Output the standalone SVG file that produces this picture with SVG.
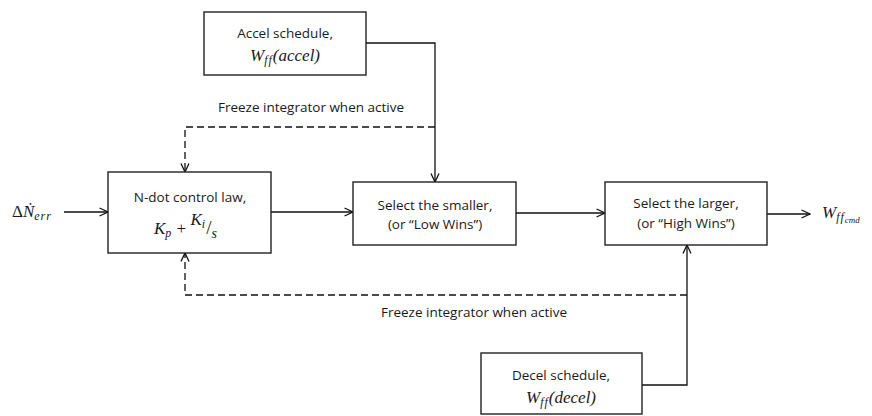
<svg xmlns="http://www.w3.org/2000/svg" width="872" height="416" viewBox="0 0 872 416">
<style>
.box{fill:#fff;stroke:#222;stroke-width:1.4}
.ln{fill:none;stroke:#111;stroke-width:1.3}
.dash{fill:none;stroke:#111;stroke-width:1.3;stroke-dasharray:7,4}
.t{font-family:"Open Sans","Liberation Sans",sans-serif;font-size:13.5px;fill:#1a1a1a;text-anchor:middle}
.m{font-family:"Liberation Serif",serif;font-style:italic;font-size:17px;fill:#1a1a1a}
.s{font-size:12px;letter-spacing:1px}
</style>
<defs>
<marker id="ah" viewBox="0 0 10 10" refX="9.5" refY="5" markerWidth="10" markerHeight="10" markerUnits="userSpaceOnUse" orient="auto">
<path d="M1,1 L9.5,5 L1,9" fill="none" stroke="#111" stroke-width="1.3"/>
</marker>
</defs>
<rect width="872" height="416" fill="#fff"/>
<g id="connectors">
<line class="ln" x1="64" y1="212" x2="108" y2="212" marker-end="url(#ah)"/>
<line class="ln" x1="271" y1="212" x2="353" y2="212" marker-end="url(#ah)"/>
<line class="ln" x1="516" y1="213" x2="605" y2="213" marker-end="url(#ah)"/>
<line class="ln" x1="767" y1="214" x2="810" y2="214" marker-end="url(#ah)"/>
<polyline class="ln" points="366,43 435,43 435,182" marker-end="url(#ah)"/>
<polyline class="ln" points="642,385 687,385 687,245" marker-end="url(#ah)"/>
<polyline class="dash" points="435,127 185,127 185,172" marker-end="url(#ah)"/>
<polyline class="dash" points="687,295 185,295 185,253" marker-end="url(#ah)"/>
</g>
<g id="label-in">
<text class="m" x="12" y="217"><tspan font-style="normal">Δ</tspan>Ṅ<tspan class="s" dy="3">err</tspan></text>
</g>
<g id="label-out">
<text class="m" x="822" y="218">W<tspan class="s" dy="3">ff</tspan><tspan font-size="9" dy="2">cmd</tspan></text>
</g>
<g id="freeze-top">
<text class="t" x="311" y="112">Freeze integrator when active</text>
</g>
<g id="freeze-bottom">
<text class="t" x="474" y="317">Freeze integrator when active</text>
</g>
<g id="accel">
<rect class="box" x="204" y="12" width="162" height="63"/>
<text class="t" x="285" y="38">Accel schedule,</text>
<text class="m" x="285" y="61" text-anchor="middle">W<tspan class="s" dy="3">ff</tspan><tspan dy="-3">(accel)</tspan></text>
</g>
<g id="ndot">
<rect class="box" x="108" y="172" width="163" height="81"/>
<text class="t" x="190" y="202">N-dot control law,</text>
<text class="m" x="154" y="234">K<tspan class="s" dy="3">p</tspan><tspan dy="-3" font-style="normal"> + </tspan><tspan dy="-9">K</tspan><tspan class="s" dy="3">i</tspan><tspan dy="6" font-style="normal" font-size="19">/</tspan><tspan font-size="14" dy="4">s</tspan></text>
</g>
<g id="low-wins">
<rect class="box" x="353" y="182" width="163" height="63"/>
<text class="t" x="435" y="210">Select the smaller,</text>
<text class="t" x="435" y="229">(or “Low Wins”)</text>
</g>
<g id="high-wins">
<rect class="box" x="605" y="182" width="162" height="63"/>
<text class="t" x="686" y="208">Select the larger,</text>
<text class="t" x="686" y="228">(or “High Wins”)</text>
</g>
<g id="decel">
<rect class="box" x="481" y="353" width="161" height="61"/>
<text class="t" x="561" y="380">Decel schedule,</text>
<text class="m" x="561" y="403" text-anchor="middle">W<tspan class="s" dy="3">ff</tspan><tspan dy="-3">(decel)</tspan></text>
</g>
</svg>
